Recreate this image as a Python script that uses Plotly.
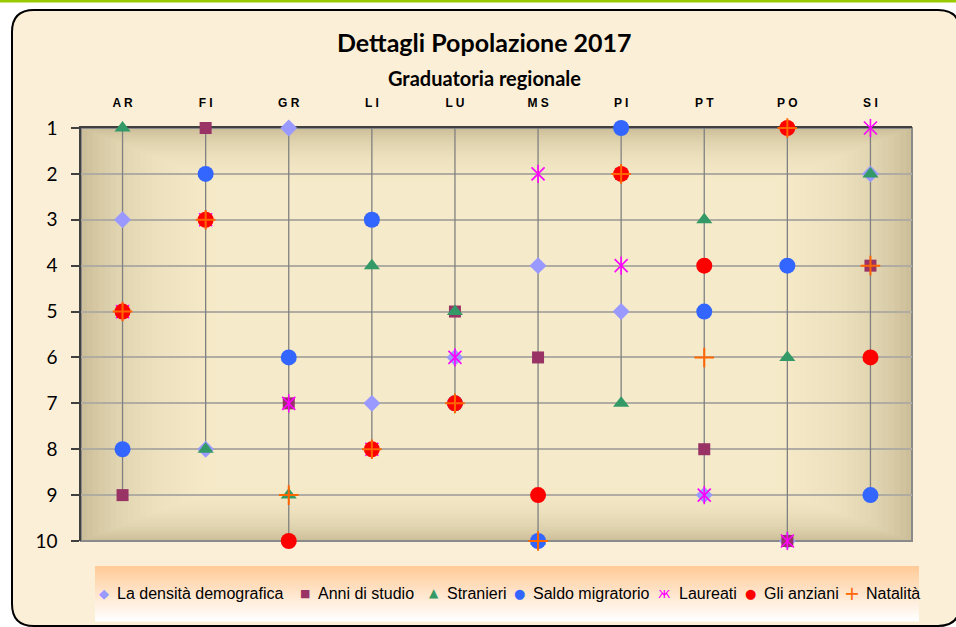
import plotly.graph_objects as go

# ---------------- data ----------------
categories = ["AR", "FI", "GR", "LI", "LU", "MS", "PI", "PT", "PO", "SI"]
densita = [3, 8, 1, 7, 6, 4, 5, 9, 10, 2]
anni_studio = [9, 1, 7, 3, 5, 6, 2, 8, 10, 4]
stranieri = [1, 8, 9, 4, 5, 10, 7, 3, 6, 2]
saldo_migratorio = [8, 2, 6, 3, 7, 10, 1, 5, 4, 9]
laureati = [5, 3, 7, 8, 6, 2, 4, 9, 10, 1]
anziani = [5, 3, 10, 8, 7, 9, 2, 4, 1, 6]
natalita = [5, 3, 9, 8, 7, 10, 2, 6, 1, 4]
y_ticks = list(range(1, 11))

series_names = ["La densità demografica", "Anni di studio", "Stranieri",
                "Saldo migratorio", "Laureati", "Gli anziani", "Natalità"]
series_colors = ["#9999FF", "#993366", "#339966", "#3366FF", "#FF00FF", "#FF0000", "#FF6600"]

# ---------------- geometry helpers ----------------
W, H = 956, 627
L, R, T, B = 81, 912, 128, 541


def px(x):
    return (x - L) / (R - L)


def py(y):
    return (B - y) / (B - T)


fig = go.Figure()

# vertical drop lines from rank 1 down to the lowest-ranked marker of each category
all_series = [densita, anni_studio, stranieri, saldo_migratorio, laureati, anziani, natalita]
lx, ly = [], []
for i, c in enumerate(categories):
    lx += [c, c, None]
    ly += [1, max(s[i] for s in all_series), None]
fig.add_trace(go.Scatter(x=lx, y=ly, mode="lines", line=dict(color="#808080", width=1.3),
                         showlegend=False, hoverinfo="skip", cliponaxis=False))

common = dict(mode="markers", cliponaxis=False, showlegend=False)
fig.add_trace(go.Scatter(x=categories, y=densita, name=series_names[0],
                         marker=dict(symbol="diamond", size=13, color=series_colors[0]), **common))
fig.add_trace(go.Scatter(x=categories, y=anni_studio, name=series_names[1],
                         marker=dict(symbol="square", size=12, color=series_colors[1]), **common))
fig.add_trace(go.Scatter(x=categories, y=stranieri, name=series_names[2],
                         marker=dict(symbol="triangle-up", size=14, color=series_colors[2]), **common))
fig.add_trace(go.Scatter(x=categories, y=saldo_migratorio, name=series_names[3],
                         marker=dict(symbol="circle", size=16, color=series_colors[3]), **common))
fig.add_trace(go.Scatter(x=categories, y=laureati, name=series_names[4],
                         marker=dict(symbol="x-thin-open", size=13, color=series_colors[4],
                                     line=dict(color=series_colors[4], width=1.6)), **common))
fig.add_trace(go.Scatter(x=categories, y=laureati, name=series_names[4],
                         marker=dict(symbol="line-ns-open", size=13, color=series_colors[4],
                                     line=dict(color=series_colors[4], width=1.6)), **common))
fig.add_trace(go.Scatter(x=categories, y=anziani, name=series_names[5],
                         marker=dict(symbol="circle", size=16, color=series_colors[5]), **common))
fig.add_trace(go.Scatter(x=categories, y=natalita, name=series_names[6],
                         marker=dict(symbol="cross-thin-open", size=14, color=series_colors[6],
                                     line=dict(color=series_colors[6], width=2)), **common))

# ---------------- decorative shapes ----------------
shapes = []
# green top bar
shapes.append(dict(type="rect", xref="paper", yref="paper", x0=px(-5), x1=px(W + 5),
                   y0=py(2.5), y1=py(-5), fillcolor="#99CC00", line=dict(width=0), layer="below"))
# rounded frame
x0, y0, x1, y1, rr = 12, 10, 960, 626, 22
path = (f"M {px(x0 + rr)},{py(y0)} L {px(x1 - rr)},{py(y0)} "
        f"Q {px(x1)},{py(y0)} {px(x1)},{py(y0 + rr)} L {px(x1)},{py(y1 - rr)} "
        f"Q {px(x1)},{py(y1)} {px(x1 - rr)},{py(y1)} L {px(x0 + rr)},{py(y1)} "
        f"Q {px(x0)},{py(y1)} {px(x0)},{py(y1 - rr)} L {px(x0)},{py(y0 + rr)} "
        f"Q {px(x0)},{py(y0)} {px(x0 + rr)},{py(y0)} Z")
shapes.append(dict(type="path", xref="paper", yref="paper", path=path,
                   fillcolor="#FCEFD7", line=dict(color="#000000", width=2), layer="below"))
# plot area gradient (dark edges, light centre)
shapes.append(dict(type="rect", xref="paper", yref="paper", x0=0, x1=1, y0=0, y1=1,
                   fillcolor="#C9BA94", line=dict(width=0), layer="below"))
N = 34
for k in range(N):
    ix = k / N * 0.24
    iy = k / N * 0.19
    shapes.append(dict(type="rect", xref="paper", yref="paper", x0=ix, x1=1 - ix,
                       y0=iy, y1=1 - iy, fillcolor="#FCEFD8", opacity=0.09,
                       line=dict(width=0), layer="below"))
# plot border
shapes.append(dict(type="rect", xref="paper", yref="paper", x0=0, x1=1, y0=0, y1=1,
                   line=dict(color="#8A8A8A", width=2), layer="below"))
# legend gradient box
lt, lb, ll, lr = 566, 621, 95, 919
NS = 28
for k in range(NS):
    f = k / (NS - 1)
    g = int(204 + (255 - 204) * f)
    b = int(153 + (255 - 153) * f)
    ya = lt + (lb - lt) * k / NS
    yb = lt + (lb - lt) * (k + 1) / NS
    shapes.append(dict(type="rect", xref="paper", yref="paper", x0=px(ll), x1=px(lr),
                       y0=py(yb + 0.5), y1=py(ya), fillcolor=f"rgb(255,{g},{b})",
                       line=dict(width=0), layer="below"))

annotations = [
    dict(text="<b>Dettagli Popolazione 2017</b>", xref="paper", yref="paper",
         x=px(484), y=py(42), xanchor="center", yanchor="middle", showarrow=False,
         font=dict(family="Lato", size=25, color="#000000")),
    dict(text="<b>Graduatoria regionale</b>", xref="paper", yref="paper",
         x=px(484), y=py(78), xanchor="center", yanchor="middle", showarrow=False,
         font=dict(family="Lato", size=20, color="#000000")),
]

# legend row (symbols + labels) laid out like the original
legend_symbols = ["◆", "■", "▲", "●", "ж", "●", "+"]
legend_sym_sizes = [13, 11, 12, 13, 14, 13, 19]
legend_sym_x = [104, 305, 434, 519, 664, 750, 852]
legend_text_x = [115, 316, 445, 531, 677, 762, 864]
legend_y = 593
for i, name in enumerate(series_names):
    annotations.append(dict(text=legend_symbols[i], xref="paper", yref="paper",
                            x=px(legend_sym_x[i]), y=py(legend_y), xanchor="center",
                            yanchor="middle", showarrow=False,
                            font=dict(family="DejaVu Sans", size=legend_sym_sizes[i],
                                      color=series_colors[i])))
    annotations.append(dict(text=name, xref="paper", yref="paper",
                            x=px(legend_text_x[i]), y=py(legend_y), xanchor="left",
                            yanchor="middle", showarrow=False,
                            font=dict(family="Liberation Sans, Arial", size=16,
                                      color="#000000")))

fig.update_layout(
    width=W, height=H, autosize=False,
    margin=dict(l=L, r=W - R, t=T, b=H - B, pad=0),
    paper_bgcolor="#FFFFFF", plot_bgcolor="rgba(0,0,0,0)",
    shapes=shapes, annotations=annotations,
    showlegend=False,
    xaxis=dict(type="category", categoryorder="array", categoryarray=categories,
               range=[-0.5, len(categories) - 0.5], side="top",
               tickvals=categories, ticktext=[" ".join(c) for c in categories],
               showgrid=False, zeroline=False, ticks="", ticklabelstandoff=14,
               showline=True, linecolor="#404040", linewidth=2, layer="below traces",
               tickfont=dict(family="Liberation Sans, Arial", size=12, color="#000000",
                             weight="bold"),
               fixedrange=True),
    yaxis=dict(range=[10, 1], tickvals=y_ticks, ticktext=[str(v) for v in y_ticks],
               showgrid=True, gridcolor="#B0ACA2", gridwidth=1.6, zeroline=False,
               ticks="outside", ticklen=8, tickcolor="#404040", tickwidth=1.5,
               ticklabelstandoff=10,
               showline=True, linecolor="#404040", linewidth=1.5, layer="below traces",
               tickfont=dict(family="Lato", size=19, color="#000000"),
               fixedrange=True),
)

fig.write_html("out.html", config={"displayModeBar": False},
               post_script="document.body.style.margin='0px';document.body.style.overflow='hidden';")
